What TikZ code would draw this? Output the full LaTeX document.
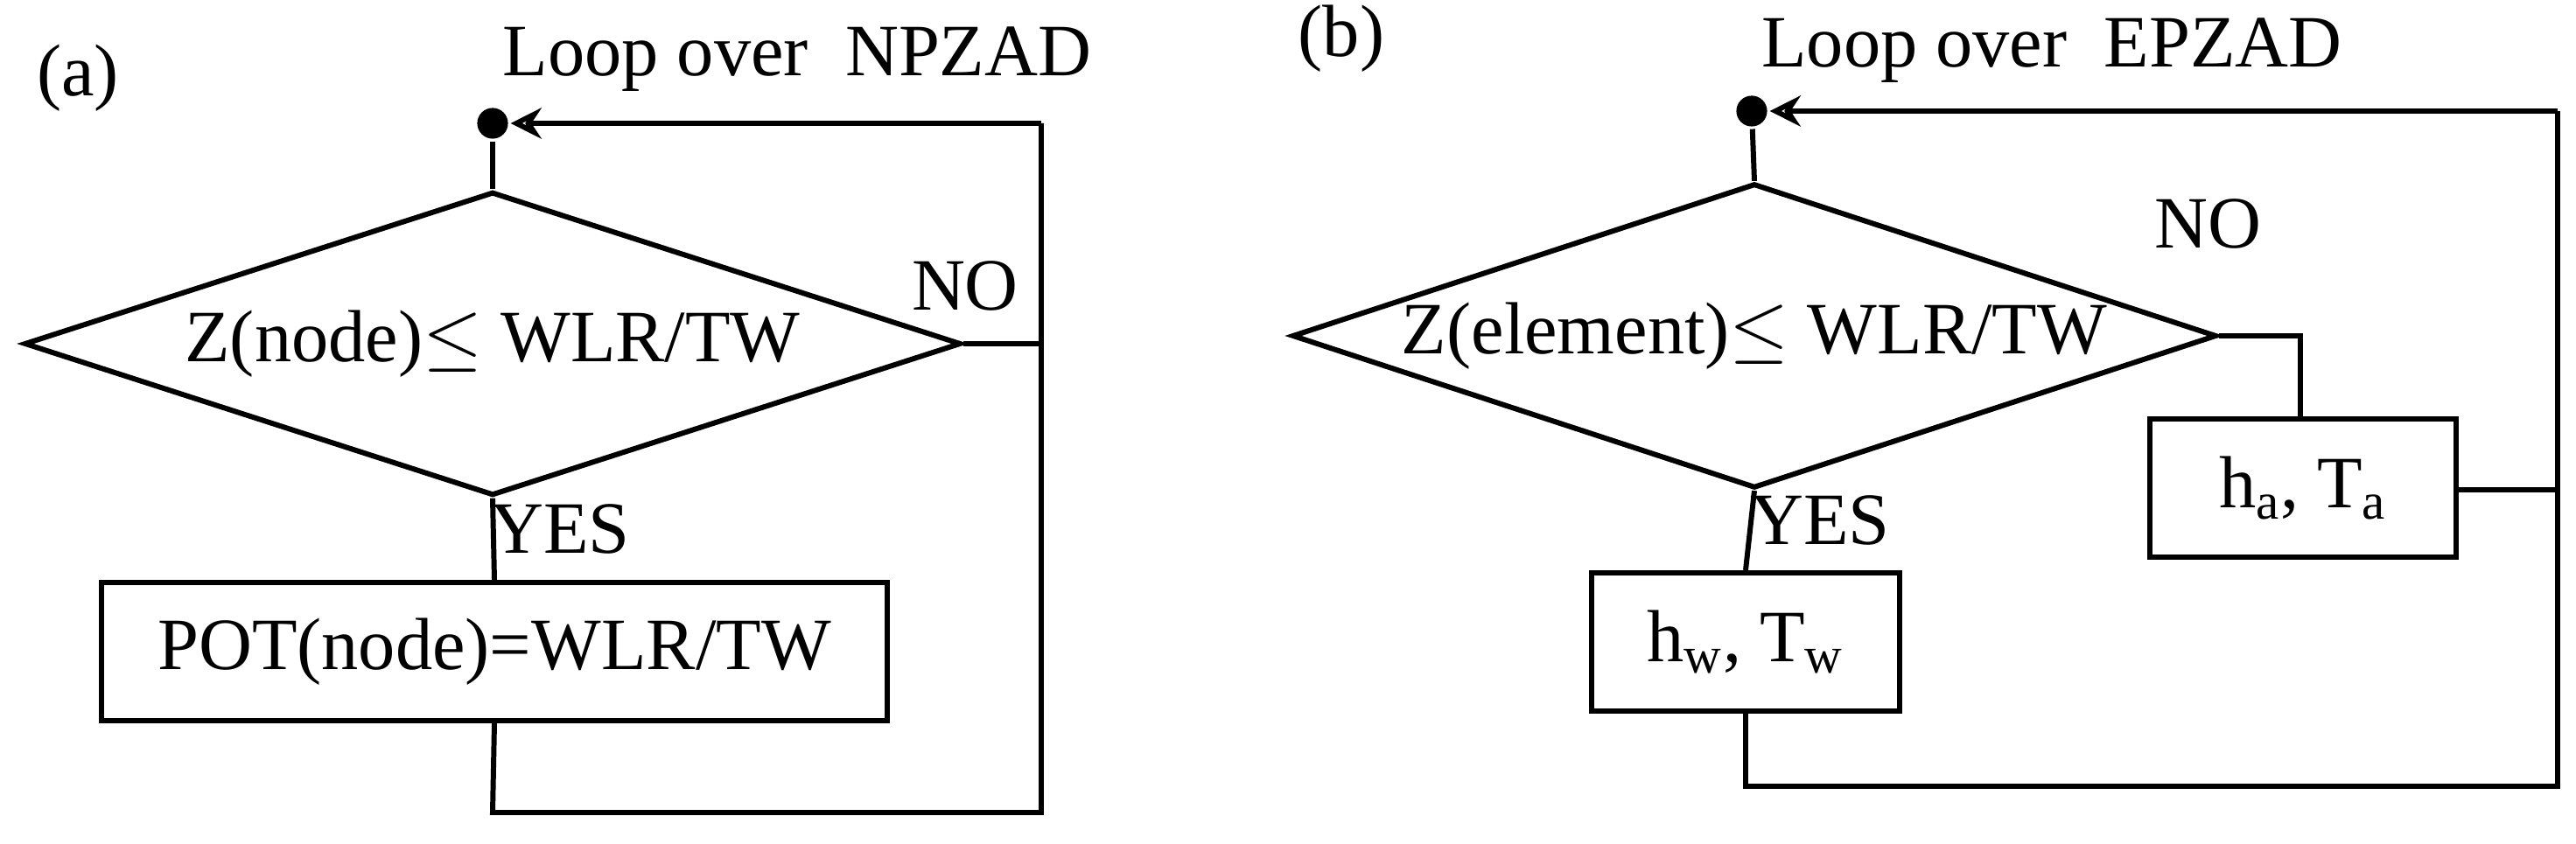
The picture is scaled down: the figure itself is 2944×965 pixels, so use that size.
\documentclass[tikz,border=0pt]{standalone}
\usepackage{fontspec}
\setmainfont{Liberation Serif}
\usetikzlibrary{shapes.geometric,arrows.meta}
\begin{document}
\begin{tikzpicture}[x=0.01cm,y=-0.01cm,line width=1.7pt,
  txt/.style={font=\fontsize{24}{29}\selectfont,inner sep=0},
  dia/.style={draw,diamond,inner sep=0,font=\fontsize{24}{29}\selectfont},
  box/.style={draw,rectangle,inner sep=0,font=\fontsize{24}{29}\selectfont},
  dot/.style={circle,fill,inner sep=0,minimum size=10pt},
  arr/.style={-{Stealth[length=10pt,width=10pt,open]}}]
\useasboundingbox (0,0) rectangle (2944,965);
% panel a
\node[txt] (la) at (89,89) {(a)};
\node[txt] (lta) at (911,68) {Loop over~ NPZAD};
\node[dot] (da) at (563,141) {};
\node[dia,aspect=3.08,minimum width=10.70cm,minimum height=3.47cm] (Da) at (563,393) {Z(node)$\leq$ WLR/TW};
\node[box,minimum width=8.97cm,minimum height=1.58cm] (Ba) at (565,745) {POT(node)=WLR/TW};
\node[txt] (noa) at (1103,327) {NO};
\node[txt] (yesa) at (640,605) {YES};
\coordinate (ra) at (1190,141);
\coordinate (ra2) at (1190,393);
\coordinate (ba) at (563,929);
\coordinate (bra) at (1190,929);
\draw (da) -- (Da.north);
\draw (Da.south) -- (Ba.north);
\draw (Da.east) -- (ra2);
\draw (Ba.south) -- (ba) -- (bra) -- (ra);
\draw[arr] (ra) -- (da);
% panel b
\node[txt] (lb) at (1533,44) {(b)};
\node[txt] (ltb) at (2345,58) {Loop over~ EPZAD};
\node[dot] (db) at (2002,127) {};
\node[dia,aspect=3.03,minimum width=10.56cm,minimum height=3.48cm] (Db) at (2005,384) {Z(element)$\leq$ WLR/TW};
\node[box,minimum width=3.49cm,minimum height=1.57cm] (Ha) at (2632,558) {h\textsubscript{a}, T\textsubscript{a}};
\node[box,minimum width=3.52cm,minimum height=1.58cm] (Hw) at (1995,734) {h\textsubscript{w}, T\textsubscript{w}};
\node[txt] (nob) at (2523,256) {NO};
\node[txt] (yesb) at (2080,595) {YES};
\coordinate (nb) at (2629,384);
\coordinate (rb) at (2923,127);
\coordinate (rb2) at (2923,560);
\coordinate (bb) at (1995,899);
\coordinate (brb) at (2923,899);
\draw (db) -- (Db.north);
\draw (Db.south) -- (Hw.north);
\draw (Db.east) -- (nb) -- (nb |- Ha.north);
\draw (Ha.east |- rb2) -- (rb2);
\draw (Hw.south) -- (bb) -- (brb) -- (rb);
\draw[arr] (rb) -- (db);
\end{tikzpicture}
\end{document}
